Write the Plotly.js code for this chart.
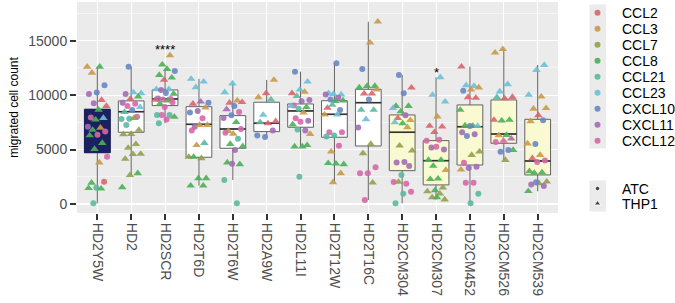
<!DOCTYPE html>
<html>
<head>
<meta charset="utf-8">
<script src="https://cdn.plot.ly/plotly-3.0.1.min.js"></script>
<style>html,body{margin:0;padding:0;background:#fff;}#chart{width:675px;height:303px;}</style>
</head>
<body>
<div id="chart"></div>
<script>
// ---------- data ----------
const categories = ["HD2Y5W","HD2","HD2SCR","HD2T6D","HD2T6W","HD2A9W","HD2L11I","HD2T12W","HD2T16C","HD2CM304","HD2CM307","HD2CM452","HD2CM526","HD2CM539"];
const chemokines = ["CCL2","CCL3","CCL7","CCL8","CCL21","CCL23","CXCL10","CXCL11","CXCL12"];
const cellTypes = ["ATC","THP1"];

// box statistics per category
const boxQ1     = [4715, 6590, 9040, 4290, 5120, 6650, 7050, 6130, 5330, 3060, 1750, 3580, 5580, 2670];
const boxMedian = [6500, 8480, 9650, 7320, 6890, 7420, 8550, 8240, 9310, 6590, 3980, 7100, 6430, 3950];
const boxQ3     = [8700, 9470, 10480, 8940, 8120, 9350, 9190, 9490, 10540, 8180, 5820, 9100, 9560, 7780];
const boxLower  = [60, 2650, 7420, 1680, 2200, 6150, 5270, 1990, 370, 60, 400, 60, 4040, 1170];
const boxUpper  = [12600, 12620, 12400, 11490, 11060, 11400, 12160, 12930, 16750, 11860, 11640, 12620, 14220, 12770];

// points: [chemokine index, cell type ("A"=ATC, "T"=THP1), migrated cell count]
const HD2Y5W = [[1,"T",12600],[3,"T",12600],[1,"T",12050],[6,"A",10900],[6,"A",10250],[7,"A",10100],[0,"T",9550],[7,"A",9250],[0,"T",9000],[3,"T",8650],[8,"A",7950],[5,"T",7900],[3,"T",7750],[7,"A",7100],[1,"T",7000],[3,"T",6800],[8,"A",6650],[8,"A",6350],[3,"T",6300],[3,"T",5600],[3,"T",5050],[8,"A",4350],[1,"T",3800],[3,"T",1950],[0,"A",2050],[4,"A",1500],[3,"T",1450],[3,"T",1400],[4,"A",60]];
const HD2 = [[6,"A",12620],[5,"T",10170],[5,"T",10250],[7,"A",10100],[3,"T",9860],[0,"T",9650],[7,"A",9300],[8,"A",9200],[8,"A",9000],[5,"T",8900],[6,"A",8640],[4,"T",8450],[8,"A",8020],[4,"A",7830],[4,"A",7800],[2,"T",7900],[4,"A",7260],[2,"T",6800],[2,"T",6430],[2,"T",6400],[2,"T",5490],[2,"T",5150],[2,"T",4600],[2,"T",4580],[2,"T",4140],[3,"T",2820],[2,"T",2650],[3,"T",1530]];
const HD2SCR = [[1,"T",13650],[3,"T",12800],[6,"A",12220],[3,"T",12400],[3,"T",11850],[3,"T",11610],[0,"T",11400],[5,"T",10540],[5,"T",10540],[7,"A",10480],[3,"T",10120],[6,"A",10200],[7,"A",9700],[8,"A",9650],[8,"A",9600],[0,"T",9560],[3,"T",9500],[3,"T",9200],[8,"A",9350],[8,"A",8900],[4,"A",8180],[4,"A",8180],[8,"A",8180],[3,"T",8000],[8,"A",7760],[4,"A",7420]];
const HD2T6D = [[5,"T",11490],[5,"T",11240],[5,"T",10720],[6,"A",9310],[7,"T",9400],[0,"T",9200],[1,"T",8850],[7,"A",8550],[6,"A",8400],[8,"A",7880],[7,"A",7100],[1,"T",7250],[1,"T",7250],[8,"A",6740],[4,"T",5600],[1,"T",5400],[2,"T",4320],[2,"T",4200],[3,"T",4320],[3,"T",2360],[3,"T",2360],[3,"T",1680],[3,"T",1680]];
const HD2T6W = [[5,"T",11060],[5,"T",10260],[1,"T",9500],[0,"T",9300],[0,"T",9350],[6,"A",9000],[7,"T",8700],[8,"A",8450],[6,"A",8150],[7,"A",7890],[3,"T",7510],[1,"T",6700],[8,"A",6900],[1,"T",6450],[8,"A",6550],[4,"A",6000],[3,"T",5500],[3,"T",5300],[7,"A",4960],[3,"T",3800],[3,"T",3650],[7,"A",3700],[4,"A",2200],[4,"A",60]];
const HD2A9W = [[1,"T",11400],[0,"T",10170],[1,"T",9800],[4,"T",9600],[5,"T",8180],[0,"T",7600],[0,"T",7400],[4,"T",7500],[7,"A",6750],[6,"A",6150],[6,"A",6300]];
const HD2L11I = [[6,"A",12160],[5,"T",11240],[5,"T",10500],[0,"T",10170],[1,"T",10300],[4,"T",9900],[7,"A",9550],[7,"A",9450],[8,"A",9050],[3,"T",8900],[4,"A",8750],[5,"T",9000],[1,"T",8400],[8,"A",7880],[7,"A",7650],[8,"A",7550],[3,"T",7300],[7,"A",6750],[4,"A",6850],[1,"T",6430],[3,"T",5270],[3,"T",5270],[3,"T",5400],[4,"A",2510]];
const HD2T12W = [[6,"A",12930],[5,"T",10170],[5,"T",10050],[5,"T",10100],[7,"A",10050],[7,"A",9750],[6,"A",9600],[3,"T",9500],[3,"T",9450],[0,"T",8830],[6,"A",8640],[4,"T",9100],[1,"T",8200],[5,"T",8200],[8,"A",6590],[8,"A",6590],[4,"A",6300],[4,"A",6200],[8,"A",5360],[1,"T",4810],[3,"T",3650],[3,"T",3700],[3,"T",3750],[1,"T",2820],[1,"T",1990]];
const HD2T16C = [[1,"T",16750],[1,"T",14820],[6,"A",12410],[3,"T",10840],[3,"T",10840],[3,"T",10700],[0,"T",10150],[0,"T",10150],[1,"T",10500],[6,"A",9600],[4,"T",8640],[4,"T",8640],[5,"T",7780],[7,"A",7020],[2,"T",5510],[2,"T",4660],[8,"A",3370],[8,"A",2820],[8,"A",2820],[2,"T",1960],[8,"A",370]];
const HD2CM304 = [[6,"A",11860],[0,"T",10690],[6,"A",10170],[3,"T",9000],[3,"T",9000],[3,"T",8500],[5,"T",8800],[7,"A",8150],[0,"T",7880],[1,"T",7700],[3,"T",7400],[5,"T",7500],[1,"T",7050],[2,"T",5360],[2,"T",4900],[7,"A",3860],[7,"A",3800],[7,"A",3500],[4,"A",2670],[8,"A",2030],[8,"A",1850],[2,"T",2030],[8,"A",1130],[4,"A",950],[4,"A",60]];
const HD2CM307 = [[5,"T",11640],[5,"T",10020],[5,"T",9400],[1,"T",8020],[0,"T",7170],[0,"T",7100],[0,"T",6600],[8,"A",5800],[8,"A",5900],[7,"A",5200],[7,"A",5000],[8,"A",5250],[3,"T",4040],[3,"T",4040],[3,"T",3500],[1,"T",3120],[3,"T",2320],[3,"T",2280],[2,"T",1500],[3,"T",1250],[2,"T",1150],[2,"T",950],[2,"T",600],[2,"T",400],[3,"T",600]];
const HD2CM452 = [[0,"T",12620],[5,"T",10840],[5,"T",10900],[1,"T",10700],[1,"T",10500],[6,"A",10400],[0,"T",9740],[0,"T",9800],[3,"T",8640],[3,"T",7170],[3,"T",7200],[5,"T",7170],[6,"A",7170],[7,"A",6600],[7,"A",6400],[6,"A",6250],[2,"T",4800],[2,"T",4500],[8,"A",3790],[7,"A",3420],[7,"A",3300],[1,"T",3150],[8,"A",1960],[8,"A",1960],[4,"A",950],[4,"A",60]];
const HD2CM526 = [[1,"T",14220],[1,"T",13900],[5,"T",11000],[5,"T",10330],[0,"T",9830],[0,"T",9700],[4,"T",9800],[3,"T",7720],[3,"T",7650],[0,"T",7720],[3,"T",6330],[1,"T",6300],[7,"T",6000],[8,"T",5800],[8,"A",5700],[6,"A",4950],[6,"A",4800],[3,"T",4950],[2,"T",4040]];
const HD2CM539 = [[5,"T",12770],[5,"T",12310],[5,"T",10020],[1,"T",9860],[1,"T",8740],[1,"T",8800],[0,"T",8150],[1,"T",7600],[6,"A",7700],[6,"A",5510],[1,"T",5550],[1,"T",4500],[0,"T",4200],[8,"A",4000],[8,"A",3850],[3,"T",3000],[3,"T",2900],[3,"T",2850],[2,"T",2050],[2,"T",1900],[7,"A",1800],[7,"A",1650],[6,"A",2000],[3,"T",1170]];

const pointsByCategory = [HD2Y5W,HD2,HD2SCR,HD2T6D,HD2T6W,HD2A9W,HD2L11I,HD2T12W,HD2T16C,HD2CM304,HD2CM307,HD2CM452,HD2CM526,HD2CM539];

// significance marks
const sigCategories = ["HD2SCR","HD2CM307"];
const sigLabels = ["****","*"];
const sigValues = [14150, 12050];

// ---------- styles ----------
const chemColors = ["#D9656D","#C99A48","#93A048","#4CAF57","#5CB9A1","#6BC0D7","#6A86C4","#A46CB6","#D667A7"];
const FONT = "Liberation Sans, Arial, Helvetica, sans-serif";
const BOXW = 0.76;
function boxFill(i){ return i === 0 ? "#1B205E" : (i >= 9 ? "#FAFAD2" : "#FFFFFF"); }

const traces = [];
// boxes (whiskers gray)
categories.forEach((c, i) => {
  traces.push({
    type: "box", x: [i], q1: [boxQ1[i]], median: [boxMedian[i]], q3: [boxQ3[i]],
    lowerfence: [boxLower[i]], upperfence: [boxUpper[i]],
    width: BOXW, whiskerwidth: 0, boxpoints: false,
    fillcolor: boxFill(i), line: {color: "#626262", width: 1},
    xaxis: "x", yaxis: "y", showlegend: false, hoverinfo: "skip"
  });
});
// dark box overlay for first group (outline same as fill)
traces.push({
  type: "box", x: [0], q1: [boxQ1[0]], median: [boxMedian[0]], q3: [boxQ3[0]],
  lowerfence: [boxQ1[0]], upperfence: [boxQ3[0]],
  width: BOXW, whiskerwidth: 0, boxpoints: false,
  fillcolor: boxFill(0), line: {color: "#1B205E", width: 1},
  xaxis: "x", yaxis: "y", showlegend: false, hoverinfo: "skip"
});
// darker median bars (not for the dark box)
categories.forEach((c, i) => {
  if (i === 0) return;
  traces.push({
    type: "scatter", mode: "lines", xaxis: "x", yaxis: "y",
    x: [i - BOXW / 2, i + BOXW / 2], y: [boxMedian[i], boxMedian[i]],
    line: {color: "#333333", width: 1.6}, showlegend: false, hoverinfo: "skip"
  });
});

// jittered points
function jitter(j, i){ const f = (j * 0.6180339887 + i * 0.371) % 1; return (f - 0.5) * 0.6; }
pointsByCategory.forEach((pts, i) => {
  traces.push({
    type: "scatter", mode: "markers", xaxis: "x", yaxis: "y",
    x: pts.map((p, j) => i + jitter(j, i)),
    y: pts.map(p => p[2]),
    marker: {
      color: pts.map(p => chemColors[p[0]]),
      symbol: pts.map(p => p[1] === "A" ? "circle" : "triangle-up"),
      size: pts.map(p => p[1] === "A" ? 6 : 7.5),
      opacity: 0.9, line: {width: 0}
    },
    showlegend: false, hoverinfo: "skip"
  });
});

// legend drawn on its own pixel-scaled axes
const legRowStart = 12.7, legRow = 16, legKeyX = 597.5, legTextX = 619.5;
const chemY = chemokines.map((c, k) => legRowStart + k * legRow);
const cellY = cellTypes.map((c, k) => 188.5 + k * 15);
traces.push({
  type: "scatter", mode: "markers", xaxis: "x2", yaxis: "y2",
  x: chemokines.map(() => legKeyX), y: chemY,
  marker: {color: chemColors, size: 6, symbol: "circle", opacity: 0.9},
  showlegend: false, hoverinfo: "skip"
});
traces.push({
  type: "scatter", mode: "markers", xaxis: "x2", yaxis: "y2",
  x: cellTypes.map(() => legKeyX), y: cellY,
  marker: {color: "#000", size: [4.5, 6], symbol: ["circle", "triangle-up"]},
  showlegend: false, hoverinfo: "skip"
});

const annotations = [];
chemokines.forEach((c, k) => annotations.push({xref: "x2", yref: "y2", x: legTextX, y: chemY[k], text: c, showarrow: false, xanchor: "left", yanchor: "middle", font: {family: FONT, size: 14, color: "#000"}}));
cellTypes.forEach((c, k) => annotations.push({xref: "x2", yref: "y2", x: legTextX, y: cellY[k], text: c, showarrow: false, xanchor: "left", yanchor: "middle", font: {family: FONT, size: 14, color: "#000"}}));
sigCategories.forEach((c, k) => annotations.push({xref: "x", yref: "y", x: categories.indexOf(c), y: sigValues[k], text: sigLabels[k], showarrow: false, xanchor: "center", yanchor: "middle", font: {family: FONT, size: 13, color: "#000"}}));

const shapes = [
  {type: "rect", xref: "x domain", yref: "y domain", x0: 0, x1: 1, y0: 0, y1: 1, fillcolor: "#EBEBEB", line: {width: 0}, layer: "below"},
  {type: "rect", xref: "x2", yref: "y2", x0: 589.5, x1: 606, y0: 4.5, y1: 148.5, fillcolor: "#EBEBEB", line: {width: 0}, layer: "below"},
  {type: "rect", xref: "x2", yref: "y2", x0: 589.5, x1: 606, y0: 180.5, y1: 211.5, fillcolor: "#EBEBEB", line: {width: 0}, layer: "below"}
];

const split = 481 / 598;
const layout = {
  width: 675, height: 303,
  margin: {l: 77, r: 0, t: 2, b: 90, pad: 0},
  paper_bgcolor: "#FFFFFF", plot_bgcolor: "rgba(0,0,0,0)",
  font: {family: FONT},
  showlegend: false,
  xaxis: {
    domain: [0, split], anchor: "y", range: [-0.6, 13.6],
    tickmode: "array", tickvals: categories.map((c, i) => i), ticktext: categories,
    tickangle: 90, tickfont: {family: FONT, size: 14, color: "#4D4D4D"},
    ticks: "outside", ticklen: 6, tickwidth: 2, tickcolor: "#333333",
    showgrid: true, gridcolor: "#FFFFFF", gridwidth: 1.1, zeroline: false, showline: false, fixedrange: true
  },
  yaxis: {
    domain: [0, 1], anchor: "x", range: [-830, 18560],
    tickmode: "array", tickvals: [0, 5000, 10000, 15000], ticktext: ["0", "5000", "10000", "15000"],
    tickfont: {family: FONT, size: 14, color: "#4D4D4D"},
    ticks: "outside", ticklen: 6, tickwidth: 2, tickcolor: "#333333",
    showgrid: true, gridcolor: "#FFFFFF", gridwidth: 1.1, zeroline: false, showline: false,
    minor: {tickmode: "array", tickvals: [2500, 7500, 12500, 17500], showgrid: true, gridcolor: "#FFFFFF", gridwidth: 0.5, ticks: ""},
    title: {text: "migrated cell count", font: {family: FONT, size: 12, color: "#000"}, standoff: 7},
    automargin: false, fixedrange: true
  },
  xaxis2: {domain: [split, 1], anchor: "y2", range: [558, 675], visible: false, fixedrange: true},
  yaxis2: {domain: [0, 1], anchor: "x2", range: [213, 2], visible: false, fixedrange: true},
  shapes: shapes,
  annotations: annotations
};

Plotly.newPlot("chart", traces, layout, {displayModeBar: false, staticPlot: true});
</script>
</body>
</html>
